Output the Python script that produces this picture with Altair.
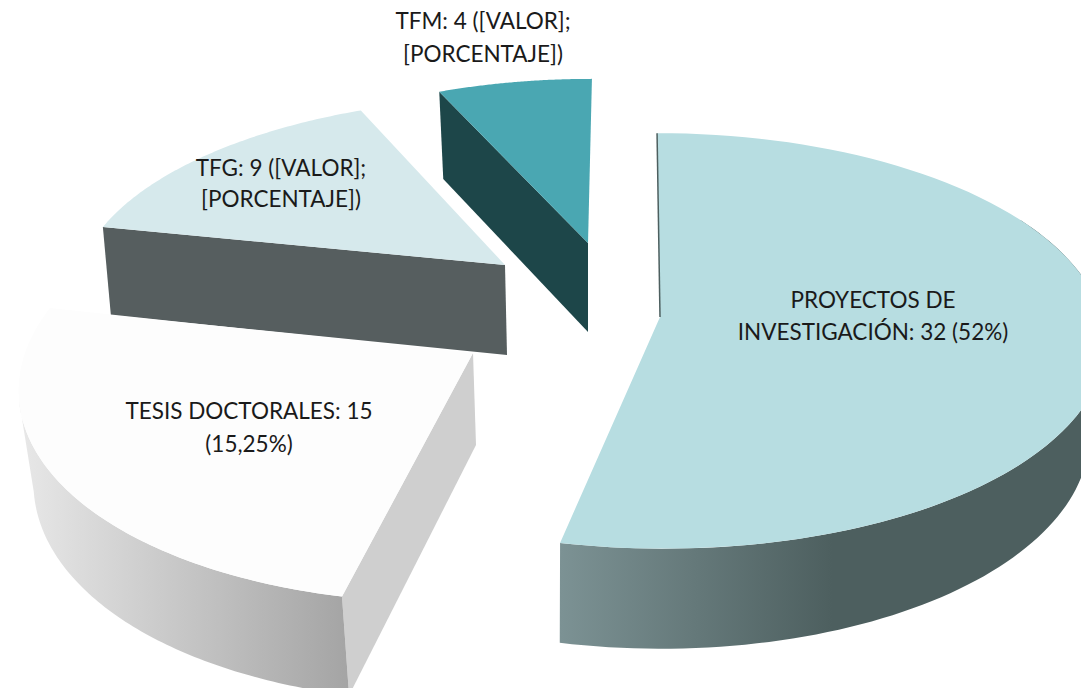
import math
import altair as alt
import pandas as pd

CATEGORIES = ["PROYECTOS", "TESIS", "TFG", "TFM"]
VALUES = [32, 15, 9, 4]
LABEL_TEXT = ["TFM: 4 ([VALOR];", "[PORCENTAJE])", "TFG: 9 ([VALOR];", "[PORCENTAJE])",
              "TESIS DOCTORALES: 15", "(15,25%)", "PROYECTOS DE", "INVESTIGACIÓN: 32 (52%)"]
LABEL_X = [483, 483, 281, 281, 249, 249, 873, 873]
LABEL_Y = [22, 55, 169, 200, 412, 445, 301, 333]

# apex x, apex y, fx, fy, perspective k, rim depth, shear, rim dx below, apex dx below, apex depth, taper
GEOM = {
    "PROYECTOS": (660, 317, 442, 205, 0.115, 91, 0.016, -3, 0, 91, 13),
    "TESIS": (473, 353, 448, 221, 0.115, 90, -0.107, 5, 3, 92, 10),
    "TFG": (505, 265, 424, 187, 0.115, 90, -0.077, 8, 2, 90, 0),
    "TFM": (588, 243, 414, 183, 0.115, 96, -0.024, 4, 0, 89, 0),
}
TOP = {"PROYECTOS": "#b7dde1", "TESIS": "#fdfdfd", "TFG": "#d6e9ec", "TFM": "#4aa7b2"}

X = alt.X("x:Q", axis=None, scale=alt.Scale(domain=[8, 1081], nice=False, zero=False))
Y = alt.Y("y:Q", axis=None, scale=alt.Scale(domain=[688, 8], nice=False, zero=False))


def rim(cat, deg, down=False):
    ax, ay, fx, fy, k, depth, sh, dxr, _dxa, _ad, tap = GEOM[cat]
    t = math.radians(deg)
    u, v = math.sin(t), -math.cos(t)
    w = 1 - k * v
    yy = fy * v / w
    px = ax + fx * u / w + sh * yy
    py = ay + yy
    if down:
        return px + dxr - tap * u, py + depth * (1 + 0.1 * v)
    return px, py


def apex(cat, down=False):
    ax, ay, *_mid, dxa, ad, _tap = GEOM[cat]
    return (ax + dxa, ay + ad) if down else (ax, ay)


def poly(points, **style):
    df = pd.DataFrame(points, columns=["x", "y"])
    df["i"] = range(len(df))
    return alt.Chart(df).mark_line(clip=True, interpolate="linear-closed", **style).encode(
        x=X, y=Y, order="i:Q")


def sweep(a, b, n=90):
    return [a + (b - a) * i / n for i in range(n + 1)]


def grad(*stops):
    return alt.Gradient(gradient="linear", x1=0, x2=1, y1=0, y2=0,
                        stops=[alt.GradientStop(offset=o, color=c) for o, c in stops])


total = sum(VALUES)
spans = {}
cur = 0.0
for c, val in zip(CATEGORIES, VALUES):
    spans[c] = (cur, cur + val / total * 360)
    cur = spans[c][1]

layers = []
flat = dict(strokeWidth=0)

# TFM
a, b = spans["TFM"]
layers.append(poly([rim("TFM", a), apex("TFM"), apex("TFM", True), rim("TFM", a, True)], fill="#1d4649", **flat))
layers.append(poly([apex("TFM")] + [rim("TFM", d) for d in sweep(a, b)], fill=TOP["TFM"], **flat))
# TFG
a, b = spans["TFG"]
layers.append(poly([rim("TFG", a), apex("TFG"), apex("TFG", True), rim("TFG", a, True)], fill="#565e5f", **flat))
layers.append(poly([apex("TFG")] + [rim("TFG", d) for d in sweep(a, b)], fill=TOP["TFG"], **flat))
# TESIS
a, b = spans["TESIS"]
layers.append(poly([apex("TESIS"), rim("TESIS", a), rim("TESIS", a, True), apex("TESIS", True)], fill="#cfcfcf", **flat))
layers.append(poly([rim("TESIS", d) for d in sweep(a, 258)] + [rim("TESIS", d, True) for d in sweep(258, a)],
                   fill=grad((0, "#e8e8e8"), (1, "#a4a4a4")), **flat))
layers.append(poly([apex("TESIS")] + [rim("TESIS", d) for d in sweep(a, b)], fill=TOP["TESIS"], **flat))
# PROYECTOS
a, b = spans["PROYECTOS"]
layers.append(poly([rim("PROYECTOS", d) for d in sweep(60, b)] + [rim("PROYECTOS", d, True) for d in sweep(b, 60)],
                   fill=grad((0, "#7c9294"), (0.5, "#4d5f5f"), (1, "#4d5f5f")), **flat))
layers.append(poly([apex("PROYECTOS")] + [rim("PROYECTOS", d) for d in sweep(a, b)], fill=TOP["PROYECTOS"], **flat))
edge = pd.DataFrame([apex("PROYECTOS"), rim("PROYECTOS", a)], columns=["x", "y"])
layers.append(alt.Chart(edge).mark_line(color="#4d5f5f", strokeWidth=1.5, clip=True).encode(x=X, y=Y))

labels = pd.DataFrame({"x": LABEL_X, "y": LABEL_Y, "t": LABEL_TEXT})
layers.append(alt.Chart(labels).mark_text(font="Lato", fontSize=22.5, color="#1a1a1a", align="center",
                                          baseline="middle").encode(x=X, y=Y, text="t:N"))

chart = alt.layer(*layers).properties(width=1073, height=680, padding=0,
                                      autosize=alt.AutoSizeParams(type="none"),
                                      background="white").configure_view(stroke=None)
chart.save("out.html", embed_options={"renderer": "svg", "actions": False})
